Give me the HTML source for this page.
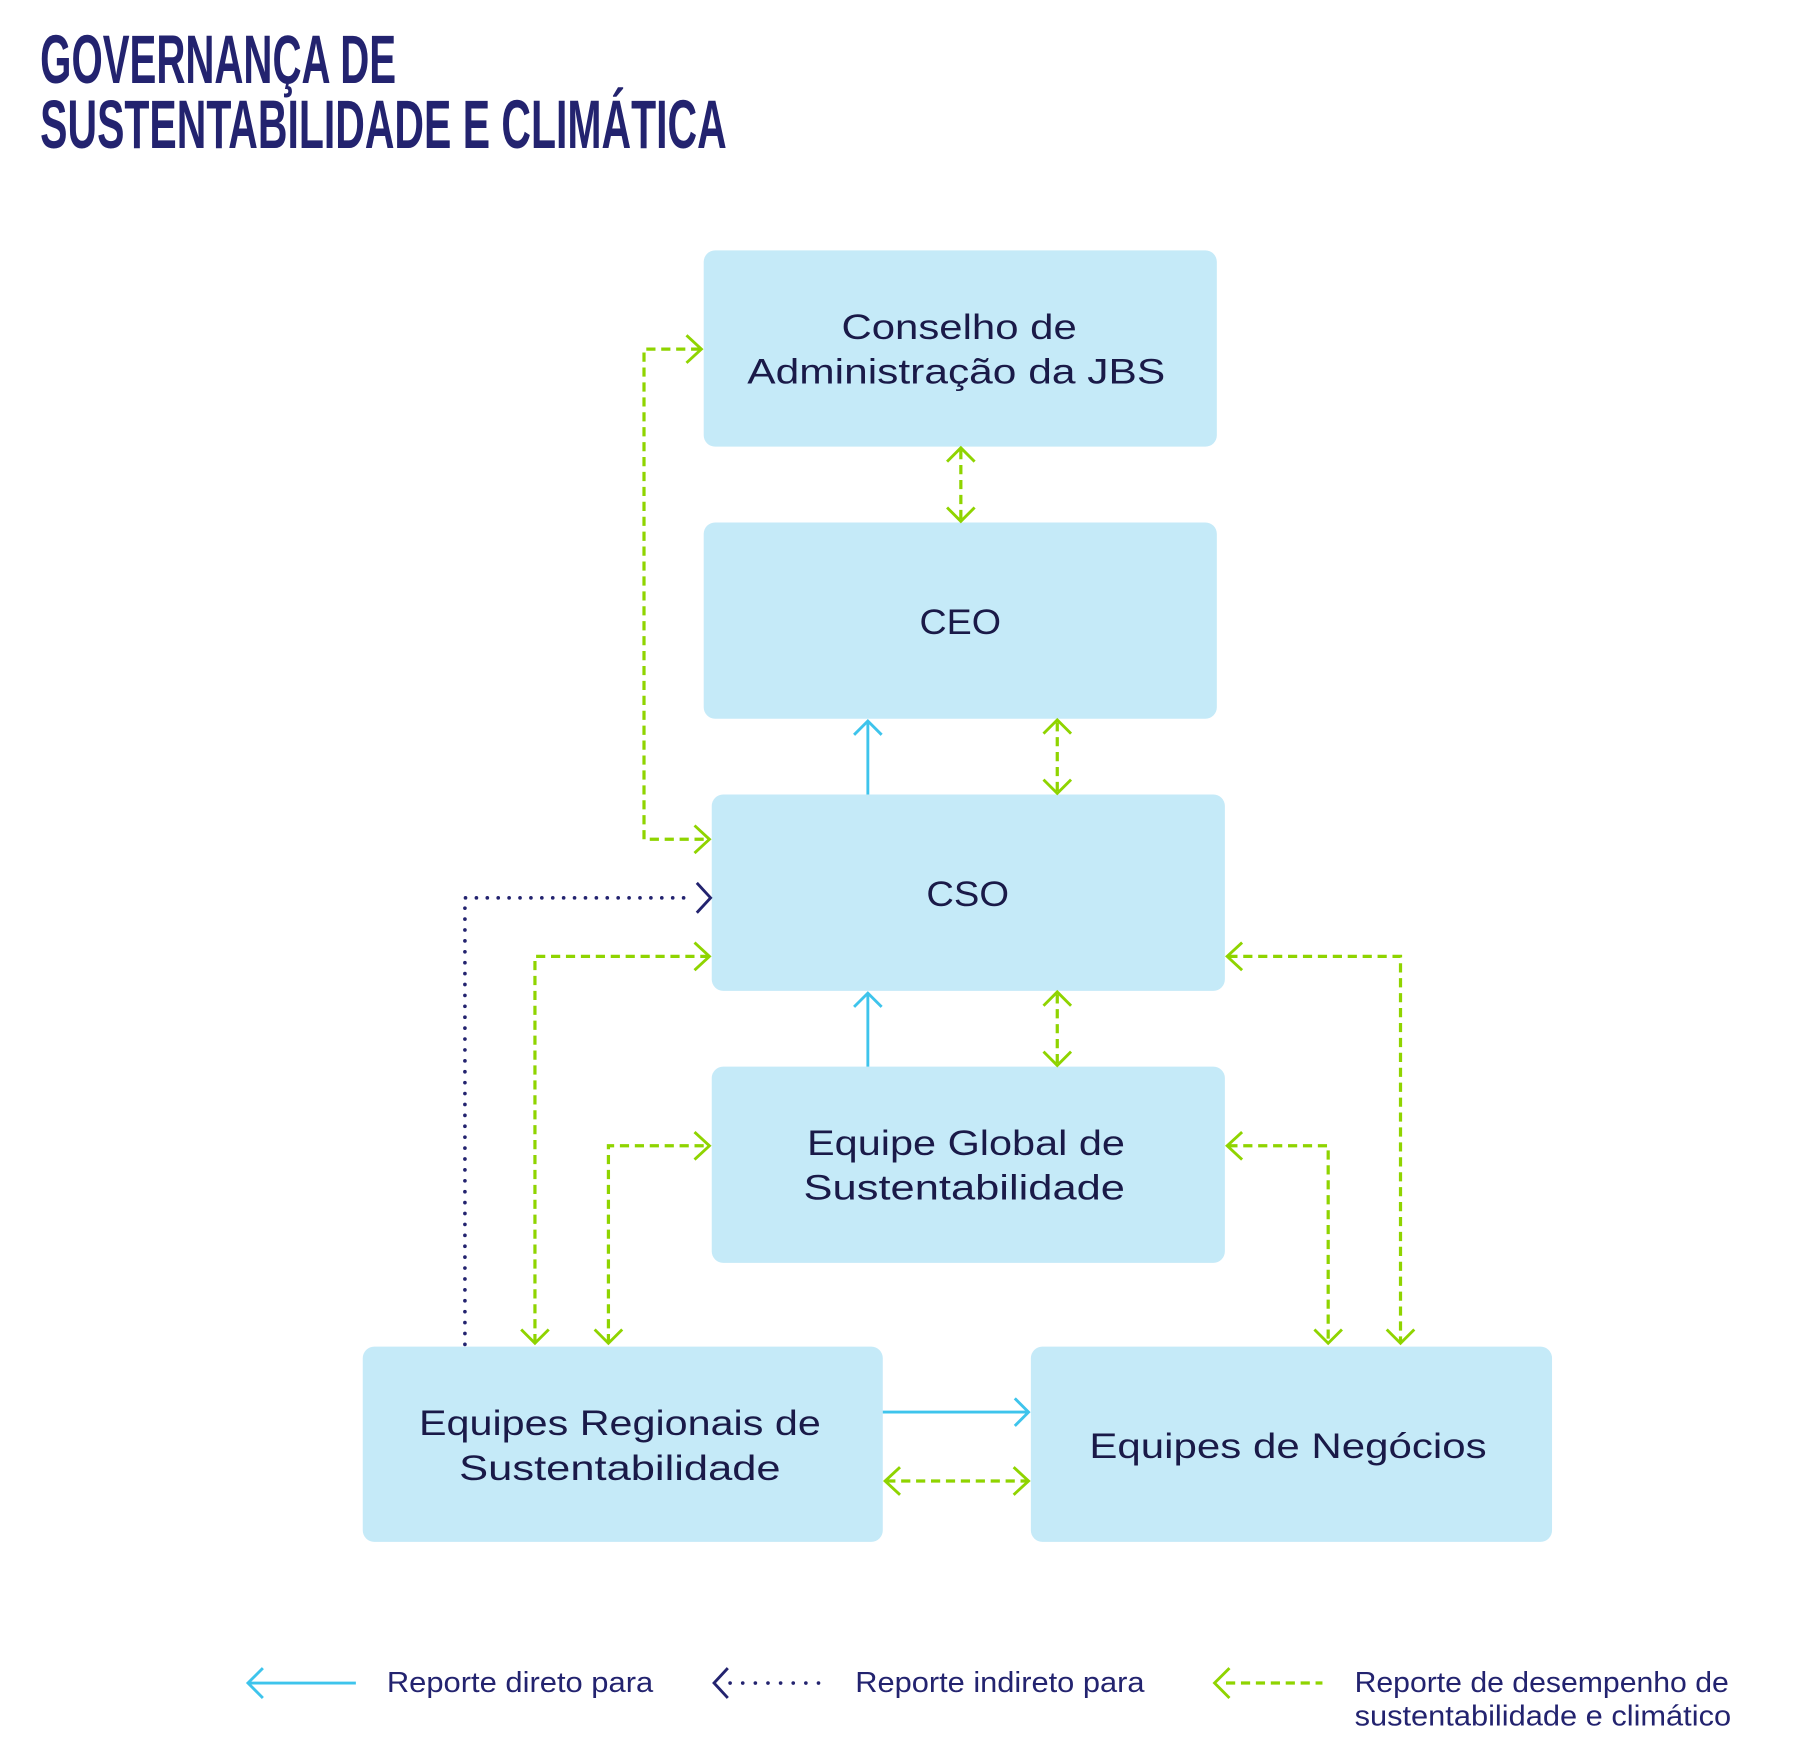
<!DOCTYPE html>
<html><head><meta charset="utf-8"><style>
html,body{margin:0;padding:0;background:#fff;}
svg{display:block;}
text{font-family:"Liberation Sans",sans-serif;}
</style></head><body>
<svg width="1800" height="1744" viewBox="0 0 1568 1519" xmlns="http://www.w3.org/2000/svg">
<g fill="#23236f" font-weight="bold" font-family="'Liberation Sans Narrow','Liberation Sans',sans-serif">
<text x="35" y="72" font-size="60" textLength="310" lengthAdjust="spacingAndGlyphs">GOVERNANÇA DE</text>
<text x="35" y="129" font-size="60" textLength="598" lengthAdjust="spacingAndGlyphs">SUSTENTABILIDADE E CLIMÁTICA</text>
</g>
<g fill="#c5eaf8">
<rect x="613" y="218" width="447" height="171" rx="10"/>
<rect x="613" y="455" width="447" height="171" rx="10"/>
<rect x="620" y="692" width="447" height="171" rx="10"/>
<rect x="620" y="929" width="447" height="171" rx="10"/>
<rect x="316" y="1173" width="453" height="170" rx="10"/>
<rect x="898" y="1173" width="454" height="170" rx="10"/>
</g>
<g fill="#1a1a48" font-size="31">
<text x="733" y="295" textLength="205" lengthAdjust="spacingAndGlyphs">Conselho de</text>
<text x="651" y="334" textLength="364" lengthAdjust="spacingAndGlyphs">Administração da JBS</text>
<text x="801" y="552" textLength="71" lengthAdjust="spacingAndGlyphs">CEO</text>
<text x="807" y="789" textLength="72" lengthAdjust="spacingAndGlyphs">CSO</text>
<text x="703" y="1006" textLength="277" lengthAdjust="spacingAndGlyphs">Equipe Global de</text>
<text x="700" y="1045" textLength="280" lengthAdjust="spacingAndGlyphs">Sustentabilidade</text>
<text x="365" y="1250" textLength="350" lengthAdjust="spacingAndGlyphs">Equipes Regionais de</text>
<text x="400" y="1289" textLength="280" lengthAdjust="spacingAndGlyphs">Sustentabilidade</text>
<text x="949" y="1270" textLength="346" lengthAdjust="spacingAndGlyphs">Equipes de Negócios</text>
</g>
<g fill="none" stroke="#8fd400" stroke-width="2.8" stroke-dasharray="8 5">
<line x1="837" y1="392" x2="837" y2="452"/>
<polyline points="613,731 561,731 561,304 610,304"/>
<line x1="921" y1="629" x2="921" y2="689"/>
<line x1="921" y1="866" x2="921" y2="926"/>
<polyline points="466,1170 466,833 617,833"/>
<polyline points="530,1170 530,998 617,998"/>
<polyline points="1070,833 1220,833 1220,1170"/>
<polyline points="1070,998 1157,998 1157,1170"/>
<line x1="772" y1="1290" x2="895" y2="1290"/>
<line x1="1068" y1="1466" x2="1152" y2="1466"/>
</g>
<g fill="none" stroke="#8fd400" stroke-width="2.5">
<polyline points="825,402 837,390 849,402"/><polyline points="825,442 837,454 849,442"/>
<polyline points="598,292 611,304 598,316"/><polyline points="605,719 618,731 605,743"/>
<polyline points="909,639 921,627 933,639"/><polyline points="909,679 921,691 933,679"/>
<polyline points="909,876 921,864 933,876"/><polyline points="909,916 921,928 933,916"/>
<polyline points="605,821 618,833 605,845"/><polyline points="605,986 618,998 605,1010"/>
<polyline points="454,1158 466,1170 478,1158"/><polyline points="518,1158 530,1170 542,1158"/>
<polyline points="1082,821 1069,833 1082,845"/><polyline points="1082,986 1069,998 1082,1010"/>
<polyline points="1145,1158 1157,1170 1169,1158"/><polyline points="1208,1158 1220,1170 1232,1158"/>
<polyline points="784,1278 771,1290 784,1302"/><polyline points="883,1278 896,1290 883,1302"/>
<polyline points="1071,1453 1058,1466 1071,1479"/>
</g>
<g fill="none" stroke="#3ec4ec" stroke-width="2.5">
<line x1="756" y1="692" x2="756" y2="628"/><polyline points="744,640 756,628 768,640"/>
<line x1="756" y1="929" x2="756" y2="865"/><polyline points="744,877 756,865 768,877"/>
<line x1="769" y1="1230" x2="896" y2="1230"/><polyline points="884,1218 896,1230 884,1242"/>
<line x1="216" y1="1466" x2="310" y2="1466"/><polyline points="229,1453 216,1466 229,1479"/>
</g>
<g fill="none" stroke="#23236f" stroke-width="3.2" stroke-linecap="round">
<polyline points="405,1171 405,782 605,782" stroke-dasharray="0 9.5"/>
<line x1="636" y1="1466" x2="716" y2="1466" stroke-dasharray="0 11"/>
</g>
<g fill="none" stroke="#23236f" stroke-width="2.5">
<polyline points="607,769 619,782 607,795"/>
<polyline points="634,1453 622,1466 634,1479"/>
</g>
<g fill="#23236f" font-size="25">
<text x="337" y="1474" textLength="232" lengthAdjust="spacingAndGlyphs">Reporte direto para</text>
<text x="745" y="1474" textLength="252" lengthAdjust="spacingAndGlyphs">Reporte indireto para</text>
<text x="1180" y="1474" textLength="326" lengthAdjust="spacingAndGlyphs">Reporte de desempenho de</text>
<text x="1180" y="1503" textLength="328" lengthAdjust="spacingAndGlyphs">sustentabilidade e climático</text>
</g>
</svg>
</body></html>
